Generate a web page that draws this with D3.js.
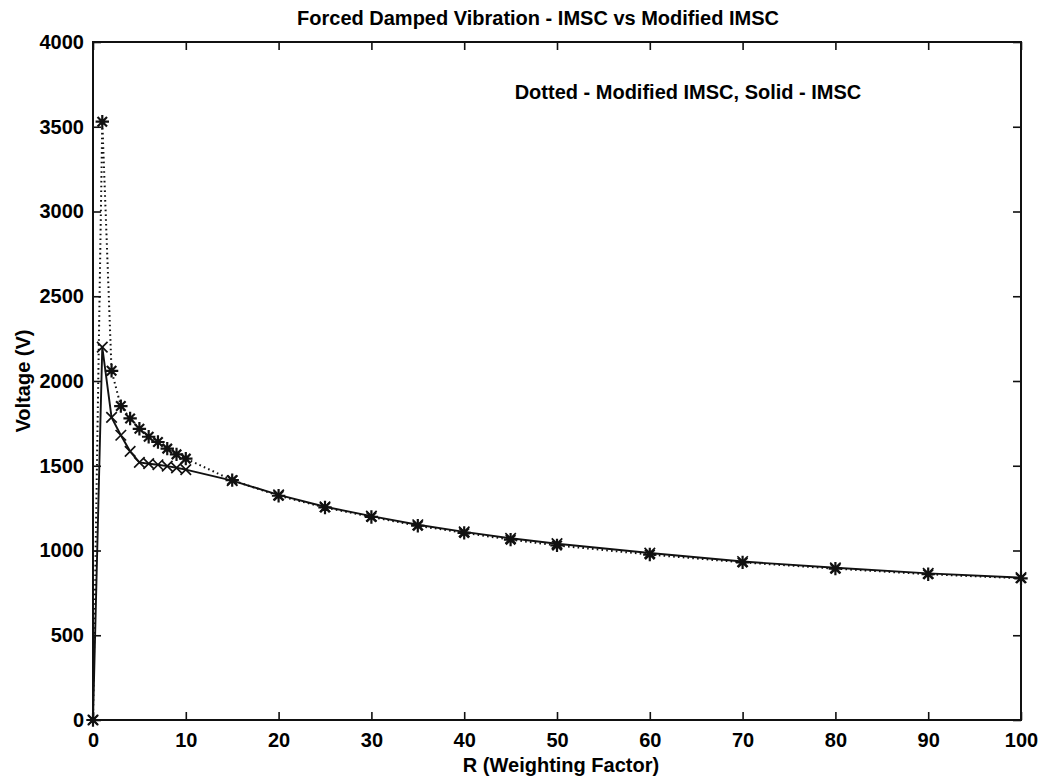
<!DOCTYPE html>
<html>
<head>
<meta charset="utf-8">
<script src="https://cdn.jsdelivr.net/npm/d3@7"></script>
<style>
  html, body { margin: 0; padding: 0; background: #fff; }
  svg { display: block; }
  text { font-family: "Liberation Sans", Arial, Helvetica, sans-serif; fill: #000; }
</style>
</head>
<body>
<svg id="chart" width="1042" height="777"></svg>
<script>
// Weighting factor R (x axis)
const weightR = [0, 1, 2, 3, 4, 5, 6, 7, 8, 9, 10, 15, 20, 25, 30, 35, 40, 45, 50, 60, 70, 80, 90, 100];
// IMSC voltage (solid line, x markers)
const imscVoltage = [0, 2200, 1785, 1680, 1585, 1520, 1512, 1506, 1498, 1488, 1477, 1412, 1328, 1258, 1203, 1152, 1110, 1072, 1040, 985, 935, 898, 865, 840];
// Modified IMSC voltage (dotted line, star markers)
const modImscVoltage = [0, 3530, 2060, 1852, 1779, 1718, 1671, 1640, 1601, 1567, 1542, 1415, 1323, 1254, 1198, 1146, 1104, 1064, 1030, 976, 930, 893, 860, 836];

const xTicks = [0, 10, 20, 30, 40, 50, 60, 70, 80, 90, 100];
const yTicks = [0, 500, 1000, 1500, 2000, 2500, 3000, 3500, 4000];

const titleText = "Forced Damped Vibration - IMSC vs Modified IMSC";
const noteText = "Dotted - Modified IMSC, Solid - IMSC";
const xLabel = "R (Weighting Factor)";
const yLabel = "Voltage (V)";

const svg = d3.select("#chart");
const m = { left: 93, right: 1021, top: 42, bottom: 720 };

const x = d3.scaleLinear().domain([0, 100]).range([m.left, m.right]);
const y = d3.scaleLinear().domain([0, 4000]).range([m.bottom, m.top]);

const ink = "#111";
const fontPx = 20;

// Plot box
svg.append("rect")
  .attr("x", m.left).attr("y", m.top)
  .attr("width", m.right - m.left).attr("height", m.bottom - m.top)
  .attr("fill", "none").attr("stroke", ink).attr("stroke-width", 2);

// Axes with inward ticks on all four sides
const tickLen = 8;
const styleAxis = g => {
  g.select(".domain").remove();
  g.selectAll(".tick line").attr("stroke", ink).attr("stroke-width", 1.6);
  g.selectAll(".tick text").attr("font-size", fontPx).attr("font-weight", "bold")
    .attr("fill", "#000")
    .style("font-family", "'Liberation Sans', Arial, sans-serif");
};

svg.append("g").attr("transform", `translate(0,${m.bottom})`)
  .call(d3.axisBottom(x).tickValues(xTicks).tickSizeInner(-tickLen).tickSizeOuter(0).tickPadding(13).tickFormat(d3.format("d")))
  .call(styleAxis);
svg.append("g").attr("transform", `translate(0,${m.top})`)
  .call(d3.axisTop(x).tickValues(xTicks).tickSizeInner(-tickLen).tickSizeOuter(0).tickFormat(""))
  .call(styleAxis);
svg.append("g").attr("transform", `translate(${m.left},0)`)
  .call(d3.axisLeft(y).tickValues(yTicks).tickSizeInner(-tickLen).tickSizeOuter(0).tickPadding(9).tickFormat(d3.format("d")))
  .call(styleAxis);
svg.append("g").attr("transform", `translate(${m.right},0)`)
  .call(d3.axisRight(y).tickValues(yTicks).tickSizeInner(-tickLen).tickSizeOuter(0).tickFormat(""))
  .call(styleAxis);

// Lines
const line = d3.line().x((d, i) => x(weightR[i])).y(d => y(d));

svg.append("path").datum(modImscVoltage)
  .attr("d", line).attr("fill", "none")
  .attr("stroke", ink).attr("stroke-width", 2)
  .attr("stroke-dasharray", "1.6,3.2");

svg.append("path").datum(imscVoltage)
  .attr("d", line).attr("fill", "none")
  .attr("stroke", ink).attr("stroke-width", 1.9);

// Asterisk and cross markers as custom d3 symbol types
const symbolAsterisk = {
  draw(ctx, size) {
    const r = Math.sqrt(size) / 2;
    const d = r * Math.SQRT1_2;
    ctx.moveTo(-r, 0); ctx.lineTo(r, 0);
    ctx.moveTo(0, -r); ctx.lineTo(0, r);
    ctx.moveTo(-d, -d); ctx.lineTo(d, d);
    ctx.moveTo(-d, d); ctx.lineTo(d, -d);
  }
};
const symbolX = {
  draw(ctx, size) {
    const r = Math.sqrt(size) / 2;
    ctx.moveTo(-r, -r); ctx.lineTo(r, r);
    ctx.moveTo(-r, r); ctx.lineTo(r, -r);
  }
};

svg.append("g").selectAll("path")
  .data(imscVoltage)
  .join("path")
  .attr("transform", (d, i) => `translate(${x(weightR[i])},${y(d)})`)
  .attr("d", d3.symbol().type(symbolX).size(110))
  .attr("fill", "none").attr("stroke", ink).attr("stroke-width", 1.7);

svg.append("g").selectAll("path")
  .data(modImscVoltage)
  .join("path")
  .attr("transform", (d, i) => `translate(${x(weightR[i])},${y(d)})`)
  .attr("d", d3.symbol().type(symbolAsterisk).size(180))
  .attr("fill", "none").attr("stroke", ink).attr("stroke-width", 2.2);

// Text
const addText = (txt, xPos, yPos, opts = {}) => svg.append("text")
  .attr("x", xPos).attr("y", yPos)
  .attr("font-size", fontPx)
  .attr("font-weight", "bold")
  .attr("text-anchor", opts.anchor || "middle")
  .attr("transform", opts.rotate ? `rotate(-90,${xPos},${yPos})` : null)
  .text(txt);

addText(titleText, 538, 25);
addText(noteText, 688, 99);
addText(xLabel, 561, 772);
addText(yLabel, 30, 381, { rotate: true });
</script>
</body>
</html>
